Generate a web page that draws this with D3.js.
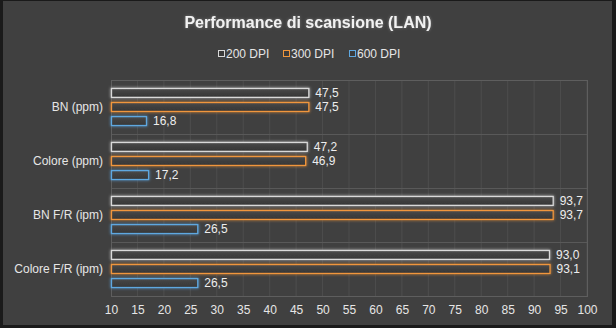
<!DOCTYPE html>
<html>
<head>
<meta charset="utf-8">
<script src="https://cdn.jsdelivr.net/npm/d3@7"></script>
<style>
  body { margin: 0; background: #000; }
  svg { display: block; }
  text { font-family: "Liberation Sans", Arial, sans-serif; }
</style>
</head>
<body>
<svg id="chart" width="616" height="328"></svg>
<script>
(function() {

  // data
  let categories = ["BN (ppm)", "Colore (ppm)", "BN F/R (ipm)", "Colore F/R (ipm)"];
  let seriesNames = ["200 DPI", "300 DPI", "600 DPI"];
  let dpi200 = [47.5, 47.2, 93.7, 93.0];
  let dpi300 = [47.5, 46.9, 93.7, 93.1];
  let dpi600 = [16.8, 17.2, 26.5, 26.5];
  let xTicks = [10, 15, 20, 25, 30, 35, 40, 45, 50, 55, 60, 65, 70, 75, 80, 85, 90, 95, 100];
  let colors = ["#d9d9d9", "#f0963c", "#5fa8e0"];

  let w = 616, h = 328;
  let left = 111, right = 587, top = 80, bottom = 296;

  let svg = d3.select("#chart");
  let defs = svg.append("defs");

  // glow filter for the bar outlines
  colors.forEach((col, i) => {
    let f = defs.append("filter").attr("id", "glow" + i)
      .attr("x", "-10%").attr("y", "-60%").attr("width", "120%").attr("height", "220%");
    f.append("feGaussianBlur").attr("in", "SourceGraphic").attr("stdDeviation", 1.8).attr("result", "blur");
    let m = f.append("feMerge");
    m.append("feMergeNode").attr("in", "blur");
    m.append("feMergeNode").attr("in", "SourceGraphic");
  });
  let tf = defs.append("filter").attr("id", "tglow")
    .attr("x", "-5%").attr("y", "-30%").attr("width", "110%").attr("height", "160%");
  tf.append("feGaussianBlur").attr("in", "SourceAlpha").attr("stdDeviation", 1.5).attr("result", "b");
  tf.append("feFlood").attr("flood-color", "#9a9a9a").attr("flood-opacity", 0.6);
  tf.append("feComposite").attr("in2", "b").attr("operator", "in").attr("result", "g");
  let tm = tf.append("feMerge");
  tm.append("feMergeNode").attr("in", "g");
  tm.append("feMergeNode").attr("in", "SourceGraphic");

  let grad = defs.append("linearGradient").attr("id", "barfill")
    .attr("x1", 0).attr("y1", 0).attr("x2", 0).attr("y2", 1);
  grad.append("stop").attr("offset", "0%").attr("stop-color", "#4a4a4a");
  grad.append("stop").attr("offset", "100%").attr("stop-color", "#353535");

  // background + frame
  svg.append("rect").attr("x", 0).attr("y", 0).attr("width", w).attr("height", h).attr("fill", "#1a1a1a");
  svg.append("rect").attr("x", 3).attr("y", 1).attr("width", w - 7).attr("height", h - 4).attr("fill", "#404040");

  // scales
  let xScale = d3.scaleLinear().domain([10, 100]).range([left, right]);
  let yScale = d3.scaleBand().domain(categories).range([top, bottom]);
  let ySub = d3.scaleBand().domain(seriesNames).range([-19, 19]).paddingInner(0.3);

  // grid
  svg.append("g").selectAll("line").data(xTicks.slice(1)).enter().append("line")
    .attr("x1", d => xScale(d)).attr("x2", d => xScale(d))
    .attr("y1", top).attr("y2", bottom)
    .attr("stroke", "#4d4d4d").attr("stroke-width", 1);
  svg.append("g").selectAll("line").data(categories.slice(1)).enter().append("line")
    .attr("x1", left).attr("x2", right)
    .attr("y1", d => yScale(d) + 0.5).attr("y2", d => yScale(d) + 0.5)
    .attr("stroke", "#595959").attr("stroke-width", 1);
  svg.append("rect").attr("x", left + 0.5).attr("y", top + 0.5)
    .attr("width", right - left).attr("height", bottom - top)
    .attr("fill", "none").attr("stroke", "#5e5e5e").attr("stroke-width", 1);

  // x axis
  let xAxis = d3.axisBottom(xScale).tickValues(xTicks).tickSize(0).tickPadding(9);
  let gx = svg.append("g").attr("transform", "translate(0," + bottom + ")").call(xAxis);
  gx.select(".domain").remove();
  gx.selectAll("text").attr("fill", "#e6e6e6").attr("font-size", "12px")
    .attr("font-family", "'Liberation Sans', Arial, sans-serif");

  // y axis
  let yAxis = d3.axisLeft(yScale).tickSize(0).tickPadding(8);
  let gy = svg.append("g").attr("transform", "translate(" + left + ",0)").call(yAxis);
  gy.select(".domain").remove();
  gy.selectAll("text").attr("fill", "#e6e6e6").attr("font-size", "12px")
    .attr("font-family", "'Liberation Sans', Arial, sans-serif");

  // bars
  let series = [dpi200, dpi300, dpi600];
  series.forEach((vals, i) => {
    let g = svg.append("g");
    let rows = categories.map((c, j) => ({cat: c, v: vals[j]}));
    g.selectAll("rect").data(rows).enter().append("rect")
      .attr("x", xScale(10) + 0.5)
      .attr("y", d => yScale(d.cat) + yScale.bandwidth() / 2 + ySub(seriesNames[i]) + 0.5)
      .attr("width", d => xScale(d.v) - xScale(10) - 1)
      .attr("height", ySub.bandwidth() - 1)
      .attr("fill", "url(#barfill)")
      .attr("stroke", colors[i]).attr("stroke-width", 1.3)
      .attr("filter", "url(#glow" + i + ")");
    g.selectAll("text").data(rows).enter().append("text")
      .attr("x", d => xScale(d.v) + 6)
      .attr("y", d => yScale(d.cat) + yScale.bandwidth() / 2 + ySub(seriesNames[i]) + ySub.bandwidth() / 2)
      .attr("dy", "0.35em")
      .attr("fill", "#eeeeee").attr("font-size", "12px")
      .text(d => d.v.toFixed(1).replace(".", ","));
  });

  // title
  svg.append("text").attr("x", 308).attr("y", 28).attr("text-anchor", "middle")
    .attr("font-family", "'Liberation Sans Narrow', 'Liberation Sans', Arial, sans-serif")
    .attr("font-weight", "bold").attr("font-size", "16px").attr("fill", "#f2f2f2")
    .attr("filter", "url(#tglow)")
    .text("Performance di scansione (LAN)");

  // legend
  let legendX = [218, 283, 349];
  let lg = svg.append("g");
  seriesNames.forEach((s, i) => {
    lg.append("rect").attr("x", legendX[i] + 0.5).attr("y", 50.5).attr("width", 6).attr("height", 6)
      .attr("fill", "#3a3a3a").attr("stroke", colors[i]).attr("stroke-width", 1);
    lg.append("text").attr("x", legendX[i] + 8).attr("y", 54).attr("dy", "0.35em")
      .attr("fill", "#e6e6e6").attr("font-size", "12px").text(s);
  });

})();
</script>
</body>
</html>
